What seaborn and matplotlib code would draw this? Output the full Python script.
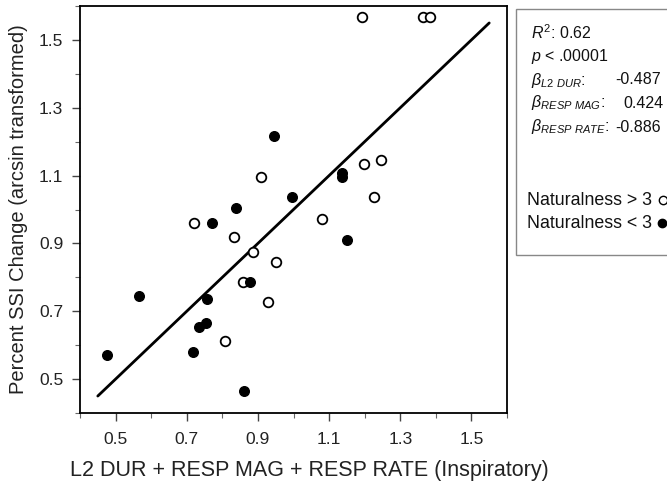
import numpy as np
import pandas as pd
import matplotlib
matplotlib.use("Agg")
import matplotlib.pyplot as plt
import seaborn as sns
from matplotlib.patches import Rectangle
from matplotlib.lines import Line2D

sns.set_theme(style="white")
plt.rcParams['font.family'] = ['Liberation Sans', 'DejaVu Sans']
plt.rcParams['mathtext.fontset'] = 'custom'
plt.rcParams['mathtext.it'] = 'Liberation Sans:italic'
plt.rcParams['mathtext.rm'] = 'Liberation Sans'
plt.rcParams['mathtext.bf'] = 'Liberation Sans:bold'

# Naturalness > 3 (open circles)
open_x = [1.193, 1.364, 1.385, 0.909, 1.199, 1.246, 1.227, 1.081, 0.721, 0.833,
          0.886, 0.950, 0.859, 0.929, 0.808]
open_y = [1.569, 1.569, 1.569, 1.095, 1.133, 1.146, 1.036, 0.971, 0.960, 0.919,
          0.876, 0.845, 0.785, 0.726, 0.613]
# Naturalness < 3 (filled circles)
fill_x = [0.946, 1.137, 1.137, 0.995, 0.839, 0.772, 1.150, 0.879, 0.567, 0.756,
          0.754, 0.735, 0.718, 0.477, 0.862]
fill_y = [1.216, 1.108, 1.095, 1.036, 1.003, 0.960, 0.909, 0.785, 0.745, 0.735,
          0.665, 0.655, 0.580, 0.571, 0.466]
# fit line endpoints
line_x = [0.45, 1.55]
line_y = [0.45, 1.55]

ticks = [0.5, 0.7, 0.9, 1.1, 1.3, 1.5]
tick_labels = ["0.5", "0.7", "0.9", "1.1", "1.3", "1.5"]
minor = [0.4, 0.6, 0.8, 1.0, 1.2, 1.4, 1.6]

stats_labels = [r"$R^2$: 0.62", r"$p$ < .00001"]
beta_names = ["L2\\ DUR", "RESP\\ MAG", "RESP\\ RATE"]
beta_vals = ["-0.487", "0.424", "-0.886"]
legend_labels = ["Naturalness > 3", "Naturalness < 3"]

df_open = pd.DataFrame({"x": open_x, "y": open_y})
df_fill = pd.DataFrame({"x": fill_x, "y": fill_y})
df_line = pd.DataFrame({"x": line_x, "y": line_y})

fig = plt.figure(figsize=(6.67, 4.86), dpi=100)
ax = fig.add_axes([80/667, 1-413/486, (507-80)/667, (413-6)/486])

sns.lineplot(data=df_line, x="x", y="y", ax=ax, color="black", lw=2.0, zorder=2)
sns.scatterplot(data=df_open, x="x", y="y", ax=ax, marker="o", s=48,
                facecolor="white", edgecolor="black", linewidth=1.3, zorder=3)
sns.scatterplot(data=df_fill, x="x", y="y", ax=ax, marker="o", s=48,
                color="black", edgecolor="black", linewidth=1.0, zorder=4)

ax.set_xlim(0.4, 1.6)
ax.set_ylim(0.4, 1.6)
ax.set_xticks(ticks)
ax.set_xticklabels(tick_labels)
ax.set_yticks(ticks)
ax.set_yticklabels(tick_labels)
ax.set_xticks(minor, minor=True)
ax.set_yticks(minor, minor=True)
ax.tick_params(axis="both", which="major", direction="out", length=6, width=1,
               color="#444444", labelsize=12.5, bottom=True, left=True, top=False, right=False,
               labelcolor="#222222", pad=6)
ax.tick_params(axis="x", which="major", pad=8)
ax.tick_params(axis="both", which="minor", direction="out", length=3.5, width=0.8,
               color="#666666", bottom=True, left=True, top=False, right=False)
for sp in ax.spines.values():
    sp.set_color("black")
    sp.set_linewidth(1.3)
ax.set_xlabel("")
ax.set_ylabel("Percent SSI Change (arcsin transformed)", fontsize=14.5, color="#222222", labelpad=8)
fig.text(309/667, 1-470/486, "L2 DUR + RESP MAG + RESP RATE (Inspiratory)", fontsize=15.5,
         color="#222222", ha="center", va="center")

# annotation box
fig.patches.append(Rectangle((516/667, 1-255/486), 0.3, (255-9)/486, transform=fig.transFigure,
                             facecolor="white", edgecolor="#888888", lw=1.0, clip_on=False))

def fy(py):
    return 1 - py/486

def fx(px):
    return px/667

fs = 11.5
fig.text(fx(531), fy(33), stats_labels[0], fontsize=fs, va="center", ha="left", color="#111111")
fig.text(fx(531), fy(57), stats_labels[1], fontsize=fs, va="center", ha="left", color="#111111")
beta_y = [80, 103, 127]
val_x = [615, 623, 615]
for name, val, yy, vx in zip(beta_names, beta_vals, beta_y, val_x):
    fig.text(fx(531), fy(yy), r"$\beta_{" + name + "}$:", fontsize=fs, va="center", ha="left", color="#111111")
    fig.text(fx(vx), fy(yy), val, fontsize=fs, va="center", ha="left", color="#111111")

fs2 = 12.8
fig.text(fx(527), fy(200), legend_labels[0], fontsize=fs2, va="center", ha="left", color="#111111")
fig.text(fx(527), fy(223), legend_labels[1], fontsize=fs2, va="center", ha="left", color="#111111")
fig.add_artist(Line2D([fx(663)], [fy(200)], marker="o", markersize=6, markerfacecolor="white",
                      markeredgecolor="black", markeredgewidth=1.0, transform=fig.transFigure))
fig.add_artist(Line2D([fx(662)], [fy(223)], marker="o", markersize=6, markerfacecolor="black",
                      markeredgecolor="black", transform=fig.transFigure))

fig.savefig("out.png", dpi=100)
